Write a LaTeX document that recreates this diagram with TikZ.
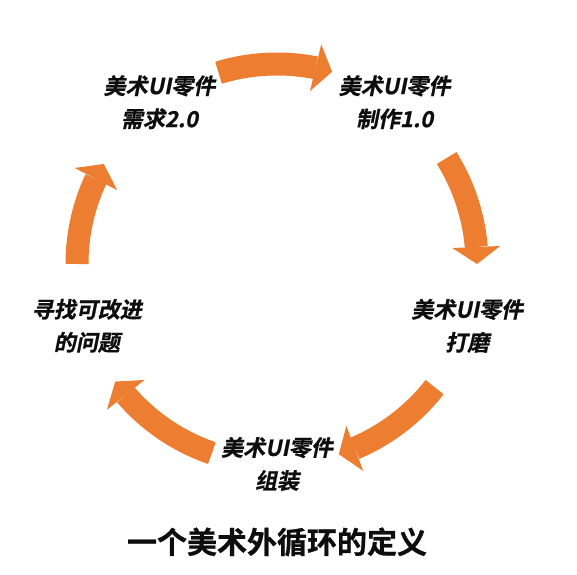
\documentclass[tikz,border=0pt]{standalone}
\usepackage{fontspec}
\usetikzlibrary{
  arrows.meta,
  bending,
  calc
}
\newfontfamily\cjkit{Noto Sans CJK SC Bold}[FakeSlant=0.2, FakeBold=0.8]
\newfontfamily\cjkbf{Noto Sans CJK SC Bold}[FakeBold=0.8]
\definecolor{colArrow}{HTML}{ED7D31}
\definecolor{colText} {HTML}{0D0D0D}
\tikzset{
  %% stage label
  stage/.style={
    font=\fontsize{22pt}{33pt}\cjkit,
    text=colText, align=center, inner sep=0pt
  },
  %% curved block arrow of the cycle
  cyc/.style={
    draw=colArrow, line width=23pt,
    -{Triangle[length=17pt,width=48pt,line width=0pt]}
  },
  %% caption under the cycle
  caption/.style={
    font=\fontsize{30pt}{34pt}\cjkbf,
    text=colText, inner sep=0pt
  }
}

\begin{document}
\begin{tikzpicture}[x=1pt, y=1pt]
\useasboundingbox (0,0) rectangle (577,574);

% centre of the cycle
\coordinate (ctr) at (277,310);

% ════════════════════════════════════════════════════════════
% STAGES
% ════════════════════════════════════════════════════════════
\node[stage] (req)      at ($(ctr)+(126:200)$) {美术UI零件\\需求2.0};
\node[stage] (make)     at ($(ctr)+(54:200)$)  {美术UI零件\\制作1.0};
\node[stage] (polish)   at ($(ctr)+(-18:200)$) {美术UI零件\\打磨};
\node[stage] (assemble) at ($(ctr)+(-90:200)$) {美术UI零件\\组装};
\node[stage] (find)     at ($(ctr)+(198:200)$) {寻找可改进\\的问题};

% ════════════════════════════════════════════════════════════
% ARROWS – clockwise round the centre
% ════════════════════════════════════════════════════════════
% req -> make
\draw[cyc] ([shift={(107:200)}]ctr) arc[start angle=107, end angle=74, radius=200pt];
% make -> polish
\draw[cyc] ([shift={(32:200)}]ctr) arc[start angle=32, end angle=0, radius=200pt];
% polish -> assemble
\draw[cyc] ([shift={(-38:200)}]ctr) arc[start angle=-38, end angle=-72, radius=200pt];
% assemble -> find
\draw[cyc] ([shift={(251:200)}]ctr) arc[start angle=251, end angle=216, radius=200pt];
% find -> req
\draw[cyc] ([shift={(180:200)}]ctr) arc[start angle=180, end angle=150, radius=200pt];

% caption
\node[caption] (title) at (277,32) {一个美术外循环的定义};

\end{tikzpicture}
\end{document}
